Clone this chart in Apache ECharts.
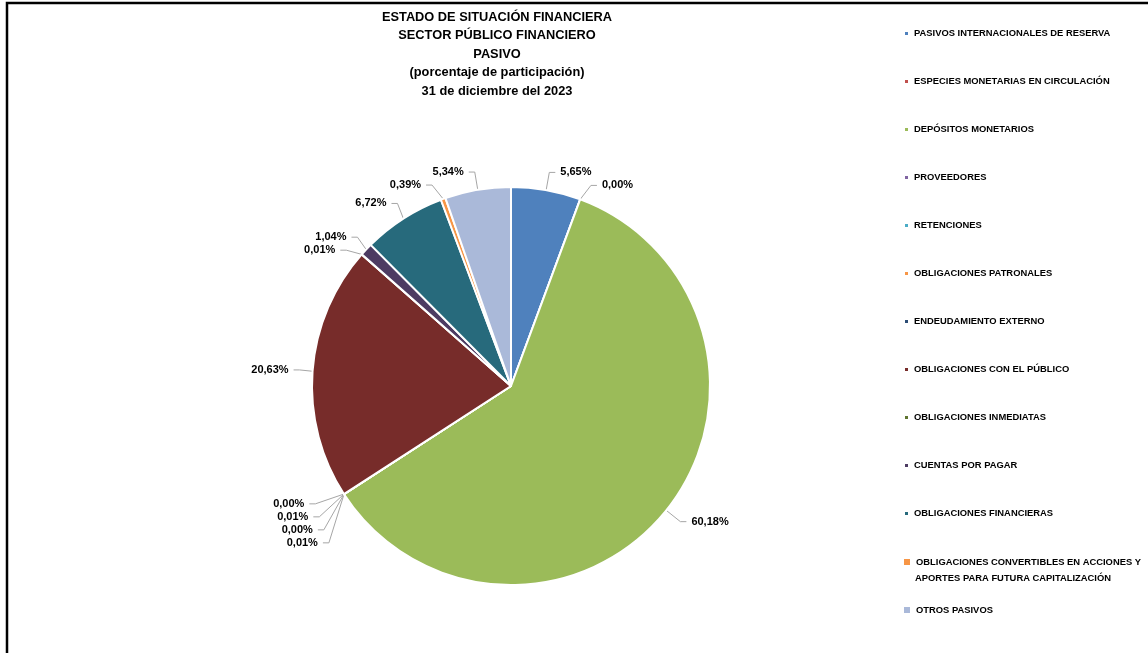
<!DOCTYPE html>
<html>
<head>
<meta charset="utf-8">
<script src="https://cdn.jsdelivr.net/npm/echarts@6/dist/echarts.min.js"></script>
<style>
  html, body { margin: 0; padding: 0; background: #fff; }
  #chart { width: 1148px; height: 653px; }
</style>
</head>
<body>
<div id="chart"></div>
<script>
// categorias y valores (porcentaje de participacion)
var categories = [
  'PASIVOS INTERNACIONALES DE RESERVA',
  'ESPECIES MONETARIAS EN CIRCULACIÓN',
  'DEPÓSITOS MONETARIOS',
  'PROVEEDORES',
  'RETENCIONES',
  'OBLIGACIONES PATRONALES',
  'ENDEUDAMIENTO EXTERNO',
  'OBLIGACIONES CON EL PÚBLICO',
  'OBLIGACIONES INMEDIATAS',
  'CUENTAS POR PAGAR',
  'OBLIGACIONES FINANCIERAS',
  'OBLIGACIONES CONVERTIBLES EN ACCIONES Y',
  'OTROS PASIVOS'
];
var values = [5.65, 0.00, 60.18, 0.01, 0.00, 0.01, 0.00, 20.63, 0.01, 1.04, 6.72, 0.39, 5.34];
var colors = ['#4F81BD', '#C0504D', '#9BBB59', '#8064A2', '#4BACC6', '#F79646',
              '#2C4D75', '#772C2A', '#5F7530', '#4D3B62', '#276A7C', '#F79646', '#AAB9D9'];
var titleLines = [
  'ESTADO DE SITUACIÓN FINANCIERA',
  'SECTOR PÚBLICO FINANCIERO',
  'PASIVO',
  '(porcentaje de participación)',
  '31 de diciembre del 2023'
];

var font = '"Liberation Sans Narrow", "Liberation Sans", Arial, sans-serif';

var myChart = echarts.init(document.getElementById('chart'));

var pieData = categories.map(function (c, i) {
  return { name: c, value: values[i], itemStyle: { color: colors[i] } };
});

var legendText = { color: '#000', fontSize: 9.4, fontWeight: 'bold', fontFamily: font };

var option = {
  backgroundColor: '#fff',
  animation: false,
  title: {
    text: titleLines.join('\n'),
    left: 497,
    top: 8,
    padding: 0,
    textAlign: 'center',
    textStyle: {
      color: '#000',
      fontSize: 12.8,
      fontWeight: 'bold',
      fontFamily: font,
      lineHeight: 18.5
    }
  },
  legend: [{
    orient: 'vertical',
    left: 903,
    top: 29,
    padding: 0,
    itemWidth: 5,
    itemHeight: 5,
    itemGap: 39,
    icon: 'rect',
    selectedMode: false,
    data: categories.slice(0, 11),
    textStyle: legendText
  }, {
    orient: 'vertical',
    left: 902,
    top: 557,
    padding: 0,
    itemWidth: 8,
    itemHeight: 8,
    icon: 'rect',
    selectedMode: false,
    data: categories.slice(11, 12),
    textStyle: legendText
  }, {
    orient: 'vertical',
    left: 902,
    top: 605,
    padding: 0,
    itemWidth: 8,
    itemHeight: 8,
    icon: 'rect',
    selectedMode: false,
    data: categories.slice(12),
    textStyle: legendText
  }],
  graphic: [{
    type: 'polyline',
    shape: { points: [[7, 653], [7, 3], [1148, 3]] },
    style: { stroke: '#000', lineWidth: 2.5, fill: null }
  }, {
    type: 'text',
    left: 915,
    top: 574,
    style: {
      text: 'APORTES PARA FUTURA CAPITALIZACIÓN',
      fill: '#000',
      font: 'bold 9.4px ' + font
    }
  }],
  series: [{
    type: 'pie',
    center: [511, 386],
    radius: 199,
    startAngle: 90,
    clockwise: true,
    avoidLabelOverlap: true,
    itemStyle: { borderColor: '#fff', borderWidth: 2 },
    label: {
      show: true,
      position: 'outside',
      color: '#000',
      fontSize: 11,
      fontWeight: 'bold',
      fontFamily: font,
      formatter: function (p) {
        return p.value.toFixed(2).replace('.', ',') + '%';
      }
    },
    labelLine: {
      show: true,
      length: 18,
      length2: 6,
      lineStyle: { color: '#A6A6A6', width: 1 }
    },
    emphasis: { disabled: true },
    data: pieData
  }]
};

myChart.setOption(option);
</script>
</body>
</html>
